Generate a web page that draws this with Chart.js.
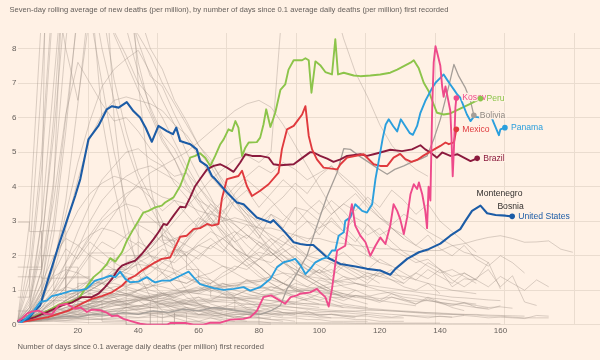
<!DOCTYPE html>
<html><head><meta charset="utf-8">
<script src="https://cdn.jsdelivr.net/npm/chart.js@4"></script>
<style>
html,body{margin:0;padding:0;background:#fff1e5;}
#wrap{position:relative;width:600px;height:360px;}
</style></head><body>
<div id="wrap"><canvas id="c"></canvas></div>
<script>
const titleText = 'Seven-day rolling average of new deaths (per million), by number of days since 0.1 average daily deaths (per million) first recorded';
const xAxisTitle = 'Number of days since 0.1 average daily deaths (per million) first recorded';
const xTickValues = [20,40,60,80,100,120,140,160];
const gridDays = [23.4,46.4,69.4,92.4,115.4,138.4,161.4,184.4];
const grayDays = [0,4,8,12,16,20,24,28,32,36,40,44,48,52,56,60,64,68,72,76,80,84,88,92,96,100,104,108,112,116,120,124,128,132,136,140,144,148,152,156,160,164,168,172,176,180,184];

// [day, deaths per million]
const unitedStates = [[0,0.1],[1.4,0.12],[3.6,0.17],[5.3,0.37],[7.5,0.56],[10.2,1.33],[13.6,2.29],[16.9,3.16],[19.1,3.73],[20.8,4.22],[23.5,5.37],[26.8,5.76],[29.6,6.24],[31.3,6.33],[33.5,6.29],[36.2,6.45],[38.4,6.19],[40.6,6.0],[42.5,5.7],[44.5,5.3],[46.7,5.76],[49.5,5.61],[51.5,5.52],[52.6,5.71],[53.9,5.32],[57.2,5.23],[59.4,5.08],[60.5,4.74],[62.8,4.6],[64.4,4.31],[65.5,4.22],[69.4,3.83],[72.7,3.54],[74.9,3.49],[79.3,3.11],[83.8,2.96],[84.8,3.03],[88.2,2.72],[91.5,2.39],[93.7,2.34],[95.9,2.31],[98,2.31],[102.6,1.95],[107,1.76],[112,1.69],[115.8,1.62],[120.2,1.57],[123.5,1.45],[125.2,1.62],[129.1,1.91],[133,2.1],[136.2,2.19],[140.1,2.35],[143.4,2.58],[146.7,2.77],[148.4,3.01],[150.6,3.3],[153.4,3.45],[155.6,3.23],[158.4,3.18],[161.7,3.16],[163.9,3.14]];
const panama = [[0,0.1],[1.4,0.08],[4.7,0.32],[7.5,0.66],[9.7,0.7],[11.4,0.83],[14.7,0.9],[18,0.99],[20.2,0.99],[22.9,1.04],[25.7,1.28],[28.5,1.35],[30.7,1.42],[32.4,1.38],[34,1.54],[35.7,1.33],[37.3,1.23],[40.1,1.25],[41.7,1.33],[42.9,1.38],[44.5,1.28],[45.6,1.23],[47.8,1.28],[50.6,1.28],[53.9,1.42],[56.7,1.54],[58.3,1.38],[60.5,1.18],[65,1.06],[68.3,1.01],[71.6,1.04],[74.9,1.09],[77.1,0.99],[80.4,1.09],[83.8,1.33],[86,1.67],[88.2,1.81],[90.4,1.86],[92,1.91],[93.7,1.73],[95.4,1.47],[97,1.62],[98.7,1.81],[100.9,1.91],[102.6,1.95],[104.2,2.15],[105.3,2.15],[106.4,2.58],[108.1,2.68],[108.6,3.01],[110.3,3.11],[111.9,3.49],[114.2,3.3],[115.8,3.25],[117.5,3.49],[118.6,4.22],[120,4.9],[121,5.4],[122,5.8],[123,5.95],[124.5,5.75],[125.8,5.6],[127,5.95],[128.5,5.75],[130,5.55],[131,5.5],[132.4,5.76],[133.5,6.14],[135.1,6.48],[137.4,6.86],[138.5,7.01],[140.1,7.15],[141.2,7.25],[142.3,7.1],[143.4,6.96],[144.6,6.81],[145.7,6.67],[146.7,6.58],[148.9,6.09],[150.1,5.9],[151.2,6.03],[153.4,6.0],[155.6,6.14],[156.7,6.09],[157.8,5.85],[159.5,5.49],[160,5.66],[161.5,5.71]];
const peru = [[0,0.1],[5.3,0.22],[10.2,0.41],[13.6,0.58],[17.4,0.66],[20.2,0.75],[22.4,1.04],[25.2,1.38],[27.4,1.54],[29.6,1.76],[30.7,1.93],[32.4,1.83],[34.6,2.1],[36.2,2.43],[38.4,2.77],[40.1,3.01],[41.7,3.25],[43.4,3.3],[45.6,3.4],[47.8,3.45],[48.9,3.54],[51.7,3.69],[53.9,4.02],[55.6,4.41],[57.2,4.84],[58.9,4.89],[60.5,4.97],[62.2,4.84],[63.9,4.6],[65.5,4.89],[67.2,5.23],[68.3,5.37],[69.9,5.66],[71.1,5.61],[72.2,5.9],[73.2,5.71],[74.4,4.89],[75.5,5.13],[76.6,5.28],[79.3,5.29],[80.4,5.42],[81.5,5.8],[82.4,6.24],[83.8,5.73],[85.4,6.14],[87.1,6.8],[88.7,6.96],[89.8,7.39],[91.5,7.66],[94.3,7.66],[95.4,7.72],[96.5,7.66],[97.4,6.72],[98.7,7.63],[100.3,7.52],[102,7.32],[104.2,7.25],[105.3,8.27],[106.2,7.25],[108.1,7.3],[111.4,7.22],[113.6,7.2],[116.9,7.22],[120.2,7.25],[123.5,7.3],[125.8,7.39],[128,7.49],[130.2,7.59],[131.3,7.66],[132.9,7.44],[134.6,7.01],[136.2,6.77],[137.9,6.38],[139,6.14],[141.2,6.09],[143.4,6.12],[146.7,6.26],[150,6.4],[153.4,6.55]];
const brazil = [[0,0.1],[1.4,0.1],[5.8,0.22],[10.2,0.38],[14.7,0.56],[18,0.64],[21.3,0.8],[24.6,0.8],[26.8,0.9],[29,1.09],[31.3,1.33],[33.5,1.62],[34.6,1.71],[37.3,1.81],[39,1.86],[41.2,2.05],[43.4,2.29],[45.1,2.48],[46.7,2.68],[48.4,2.92],[49.5,2.89],[51.7,3.16],[53.9,3.42],[55.6,3.4],[57.2,3.69],[58.9,4.02],[60.5,4.22],[62.8,4.5],[65,4.6],[67.2,4.65],[69.4,4.55],[71.6,4.43],[73.8,4.7],[75.5,4.94],[77.7,4.89],[80.4,4.89],[83.2,4.84],[84.8,4.65],[87.1,4.62],[91.5,4.65],[93.7,4.79],[97,5.0],[98.1,4.99],[100.3,4.89],[102.6,4.81],[104.7,4.72],[107,4.79],[109.2,4.89],[113.6,4.94],[115.8,4.89],[118,4.94],[120.2,4.99],[123.5,5.07],[127.4,5.03],[130.7,5.08],[133.5,5.2],[135.1,5.08],[136.8,4.99],[139,4.84],[140.7,4.99],[143.4,4.89],[145.7,4.94],[147.9,4.84],[150.1,4.74],[152.3,4.82]];
const mexico = [[0,0.1],[1.4,0.08],[10.2,0.22],[16.9,0.41],[21.3,0.61],[24.6,0.75],[27.9,0.83],[31.3,0.94],[34.6,1.13],[36.8,1.33],[39,1.42],[41.2,1.57],[43.4,1.69],[45.6,1.81],[47.8,1.91],[50.6,1.95],[52.5,2.3],[53.9,2.55],[56.1,2.58],[58.3,2.77],[60.5,2.8],[62.8,2.92],[64.4,2.87],[66.6,2.92],[67.7,3.64],[69.4,4.22],[73.2,4.31],[74.4,4.46],[76,4.02],[77.7,3.73],[80.4,3.88],[83.2,4.07],[86.5,4.41],[87.6,5.08],[89.3,5.66],[91.5,5.76],[93.1,5.95],[94.3,6.09],[95.4,6.33],[96.5,5.47],[97.6,5.08],[99.2,4.79],[101.4,4.55],[105.9,4.5],[107,4.65],[109.2,4.84],[114.7,4.94],[118,4.65],[120.2,4.6],[122.5,4.6],[124.6,4.84],[126.8,4.95],[128.5,4.8],[130.5,4.72],[132.5,4.78],[134.5,4.9],[136.5,5.0],[138.5,5.1],[140.1,5.18],[141.8,5.28],[142.9,5.23],[144.6,5.28],[145.4,5.66]];
const kosovo = [[0,0.1],[1.4,0.17],[3.1,0.32],[4.7,0.38],[6.9,0.41],[9.2,0.32],[11.4,0.3],[13.6,0.56],[16.3,0.61],[19.1,0.46],[21,0.5],[23,0.37],[24.6,0.44],[27.5,0.42],[29.6,0.35],[31.3,0.25],[33,0.27],[35.1,0.17],[37.9,0.1],[40.6,0.03],[42.9,0],[49.5,0],[50.6,0.05],[55.6,0.05],[58.3,0],[61.7,0],[63.9,0.06],[67.2,0.06],[70.5,0.15],[74.9,0.17],[77.1,0.22],[79.3,0.4],[81.5,0.8],[84,0.85],[86,0.75],[88.7,0.61],[90.5,0.8],[92.6,0.85],[93.7,0.9],[97,0.94],[99.2,1.04],[100.3,0.94],[102,0.8],[103.1,0.53],[104.2,1.04],[105.9,2.15],[108.6,2.29],[109.7,2.96],[110.8,3.49],[111.9,2.87],[113.6,2.58],[115.3,2.39],[116.9,2.0],[118.6,2.29],[120.2,2.53],[121.9,2.34],[123.5,2.87],[124.6,3.49],[125.8,3.3],[126.8,3.06],[128,2.63],[129.1,3.11],[130.2,3.78],[131.3,4.07],[132.4,3.93],[133,4.12],[134.1,3.78],[135.1,3.3],[135.7,2.8],[136.2,4.0],[136.8,3.6],[137.4,6.3],[137.9,7.6],[138.5,8.07],[139,7.9],[140.1,7.5],[140.7,6.9],[141.2,6.6],[141.8,6.9],[142.5,6.6],[143.4,6.2],[143.8,5.4],[144.2,4.3],[144.6,5.1],[145.1,6.3],[145.4,6.57]];
const bolivia = [[0,0.1],[5,0.18],[10,0.15],[15,0.25],[20,0.22],[25,0.3],[30,0.28],[35,0.35],[40,0.3],[45,0.4],[50,0.36],[55,0.45],[60,0.4],[65,0.5],[70,0.45],[75,0.38],[80.4,0.3],[83.8,0.4],[87.1,0.56],[89.3,1.04],[91.5,1.33],[93.7,1.67],[95.9,2.0],[98.1,2.58],[100.5,3.2],[102.6,3.73],[105.9,4.41],[108.1,5.1],[110.3,5.08],[113,4.9],[115.8,4.74],[119,4.55],[122.5,4.36],[125,4.5],[128,4.6],[131.3,4.74],[133.5,4.8],[135.7,4.89],[137.9,5.37],[140.1,5.95],[142.9,6.91],[144.6,7.54],[146.2,7.2],[148.4,6.86],[150.1,6.48],[151.2,6.07]];

// other countries, values every 4 days (grayDays)
const grayHigh = [
[0.1,0.7,2.4,5.5,9.5,12,11,9.6,8.4,7.6,6.8,6.1,5.3,4.8,4.1,3.6,3.0,2.7,2.2,1.9,1.7,1.4,1.2,1.05,0.9,0.8,0.72,0.6,0.55,0.5],
[0.1,0.4,1.6,4.2,8.2,11.5,13,12,10.2,8.6,7.3,6.3,5.5,5.1,4.4,3.7,3.3,2.8,2.4,2.0,1.7,1.4,1.2,1.0,0.85,0.7,0.62,0.5],
[0.1,0.3,0.9,2.6,5.6,9.2,12,13,12,10.4,9.1,8.0,7.4,6.5,5.9,5.2,4.8,4.1,3.6,3.0,2.6,2.1,1.8,1.5,1.3,1.1,0.95,0.8,0.7,0.6],
[0.1,1.2,4.5,9.5,14,14.5,12,9.2,7.1,5.6,4.4,3.7,3.0,2.4,2.0,1.6,1.3,1.05,0.8,0.65,0.5,0.42,0.35,0.3],
[0.1,0.2,0.6,1.7,3.6,6.4,9.6,9.8,9.0,9.4,8.2,7.2,6.9,6.1,5.4,4.9,4.3,3.9,3.4,3.1,2.6,2.2,1.9,1.5,1.3,1.1,0.9,0.8],
[0.1,0.3,0.8,1.8,3.2,4.7,5.9,6.9,7.4,7.7,7.95,7.3,6.5,5.8,5.0,4.3,3.7,3.0,2.5,2.0,1.7,1.4,1.2,1.0,0.9],
[0.1,0.3,0.7,1.5,2.8,4.2,5.4,6.1,6.5,6.6,6.5,6.4,6.2,5.8,5.5,5.0,4.6,4.0,3.6,3.2,2.7,2.4,2.0,1.7,1.4,1.2,1.0,0.9],
[0.1,0.5,1.6,3.6,6.1,7.6,7.0,6.4,5.9,6.0,5.6,5.1,4.7,4.1,3.7,3.2,2.8,2.3,2.0,1.7,1.4,1.2,1.0,0.8,0.7],
[0.1,0.2,0.5,1.0,1.8,2.7,3.5,4.2,4.6,5.0,5.1,4.8,4.6,4.3,4.4,4.0,3.6,3.3,2.9,2.6,2.3,2.1,1.8,1.6,1.4,1.2,1.0,0.9,0.8],
[0.1,0.2,0.4,0.8,1.4,2.2,3.0,3.6,4.0,4.3,4.5,4.6,4.4,4.2,3.9,3.6,3.4,3.1,2.9,2.6,2.4,2.2,2.0,1.8,1.6,1.5,1.3,1.2],
[0.1,0.15,0.25,0.4,0.6,0.8,1.0,1.2,1.4,1.6,1.9,2.2,2.6,3.0,3.4,3.8,4.2,4.5,4.8,4.9,4.7,5.0,9.5,12,12.5,11,9.6,8.3,7.3,6.6,5.8,5.2,4.8,4.5,4.3],
[0.1,2,7,13,16,13,10,8,6.5,5.2,4.2,3.4,2.8,2.2,1.8,1.4,1.1,0.9,0.7,0.5,0.4,0.3,0.25],
[0.1,0.8,3,7,11,13,12,10.5,9.5,8.8,8.4,7.8,7.0,6.4,5.8,5.2,4.7,4.2,3.7,3.3,2.9,2.5,2.2,1.9,1.6,1.4,1.2],
[0.1,0.5,3,25,40,30,20,12,6,3,1.5,0.8,0.4,0.2,0.1,0.1,0,0],
[0.1,0.3,1,4,12,30,45,35,22,12,7,4,2.5,1.5,1,0.6,0.4,0.3,0.2,0.2],
[0.1,0.2,0.4,0.7,1.1,1.6,2.1,2.7,3.2,3.7,4.1,4.4,4.6,4.8,5.0,5.3,5.6,5.9,6.2,6.4,6.5,6.3,5.8,5.2,4.6,4.0,3.4,2.9,2.5,2.1,1.8],
[0.1,0.6,2.2,6,11,17,20,18,14,10,7.6,6.2,5.4,4.8,4.0,3.5,3.1,2.6,2.2,1.8,1.5,1.2,1.0],
[0.1,0.4,1.2,3,6,9,11,10,8.5,7.8,7.0,6.6,6.0,5.3,4.6,4.0,3.5,3.1,2.7,2.3,2.0,1.7,1.5,1.3,1.1,1.0,0.9],
[0.1,3,9,16,20,15,10,6,4,2.5,1.8,1.2,0.9,0.7,0.5,0.4,0.3,0.2],
[0.1,1.5,5,10,8,6.5,9,7,5,3.5,2.6,2,1.5,1.1,0.8,0.6,0.5,0.4]
];
const grayMid = [
[0.1,0.3,0.7,1.2,1.8,2.3,2.6,2.8,2.7,2.5,2.3,2.0,1.8,1.6,1.4,1.2,1.0,0.9,0.8,0.7,0.6,0.5,0.45,0.4,0.35,0.3,0.3,0.25,0.2],
[0.1,0.2,0.5,0.9,1.4,2.0,2.5,3.0,3.3,3.5,3.4,3.1,2.8,2.5,2.3,2.1,1.9,1.7,1.5,1.3,1.1,1.0,0.9,0.8,0.7,0.6],
[0.1,0.2,0.35,0.5,0.7,0.9,1.1,1.3,1.5,1.7,1.9,2.1,2.3,2.5,2.6,2.8,2.9,3.0,3.1,3.0,2.8,2.6,2.4,2.2,2.0,1.9,1.8,1.7,1.6,1.5,1.4,1.3,1.2],
[0.1,0.4,1.0,1.8,2.6,3.3,3.8,4.1,4.3,4.2,4.0,3.9,3.7,3.6,3.5,3.3,3.2,3.1,3.0,2.9,2.8,2.8,2.7,2.6,2.5,2.5,2.4,2.35,2.3,2.25,2.2,2.2,2.15,2.1,2.15,2.15,2.29,2.35,2.45,2.53,2.58,2.5,2.39,2.4,2.43,2.19,2.1],
[0.1,0.15,0.2,0.3,0.4,0.5,0.6,0.7,0.8,0.9,1.0,1.1,1.3,1.5,1.7,2.0,2.3,2.1,2.6,2.9,2.5,3.2,2.8,3.4,3.0,2.6,3.1,2.7,2.4,2.9,2.5,2.2,2.0,1.8,1.9,1.6,1.4,1.5,1.3],
[0.1,0.1,0.2,0.3,0.35,0.5,0.6,0.8,1.0,1.2,1.5,1.8,2.2,2.0,2.5,2.9,3.3,3.0,3.6,3.9,3.4,3.8,4.2,3.9,3.5,3.2,3.6,3.3,2.9,2.6,2.8,2.4,2.1,1.9,1.7,1.5,1.6,1.4,1.2],
[0.1,0.2,0.3,0.5,0.7,1.0,1.3,1.6,1.9,2.1,2.4,2.2,2.6,2.3,2.0,2.4,2.7,2.5,2.2,2.0,1.9,2.3,2.6,2.2,1.9,1.7,1.5,1.8,1.6,1.4,1.2],
[0.1,0.3,0.8,1.5,2.2,1.9,2.4,2.1,1.8,1.6,1.9,1.7,1.5,1.3,1.2,1.4,1.3,1.1,1.0,0.9,0.8,0.9,0.7,0.6],
[0.1,0.15,0.2,0.3,0.4,0.5,0.6,0.7,0.9,1.1,1.3,1.5,1.8,2.1,2.4,2.8,3.2,3.6,4.0,4.3,4.6,4.4,4.7,4.5,4.2,4.4,4.6,4.3,4.0,3.6,3.2,2.8,2.5],
[0.1,0.2,0.3,0.4,0.6,0.8,1.0,1.2,1.5,1.8,2.0,2.3,2.6,2.4,2.8,3.1,2.9,3.3,3.6,3.2,3.0,3.4,3.7,4.1,3.8,4.3,4.6,4.2,3.9,3.5,3.1,2.8,2.6,2.3,2.1],
[0.1,0.2,0.35,0.5,0.7,0.9,1.1,1.0,1.3,1.5,1.4,1.7,1.9,1.8,2.1,2.3,2.2,2.5,2.7,2.5,2.9,3.2,3.0,3.4,3.3,3.6,3.2,3.5,3.8,3.4,3.1,2.9,3.2,3.0,2.7,2.5,2.3,2.1,2.0,1.8],
[0.1,0.3,0.6,1.0,1.5,2.0,2.6,3.1,3.5,3.8,4.0,3.7,3.3,3.6,3.2,2.8,3.1,2.7,2.4,2.6,2.3,2.0,2.2,1.9,1.7,1.5,1.6,1.4,1.2,1.1],
[0.1,0.15,0.2,0.25,0.3,0.4,0.5,0.6,0.7,0.8,1.0,1.2,1.5,1.9,2.4,3.0,3.5,3.2,3.8,4.2,3.9,3.6,3.2,2.9,3.3,3.0,2.7,2.5,2.2,2.0,1.8,1.7],
[0.1,0.2,0.4,0.7,1.1,1.5,2.0,2.4,2.2,2.6,2.9,2.7,2.4,2.2,2.0,2.3,2.5,2.2,1.9,1.7,1.9,2.1,1.8,1.6,1.4,1.6,1.3,1.1,1.0],
[0.1,0.1,0.15,0.2,0.2,0.25,0.3,0.35,0.4,0.5,0.55,0.6,0.7,0.8,0.9,1.0,1.2,1.4,1.6,1.9,2.2,2.5,2.3,2.7,3.0,2.8,3.2,3.5,3.3,3.7,3.4,3.9,3.6,3.2,3.5,3.0,2.7,2.4,2.1],
[0.1,0.15,0.2,0.3,0.35,0.4,0.5,0.45,0.55,0.6,0.5,0.65,0.7,0.6,0.75,0.8,0.7,0.9,0.85,1.0,0.9,1.1,1.0,1.2,1.1,1.3,1.2,1.4,1.3,1.5,1.4,1.6,1.3,1.5,1.8,1.6,1.3,1.1,1.35,1.6,1.1,1.42,0.66,0.56],
[0.1,0.12,0.18,0.25,0.3,0.38,0.45,0.5,0.6,0.55,0.7,0.8,0.75,0.9,1.0,0.95,1.1,1.2,1.1,1.3,1.25,1.4,1.2,1.5,1.35,1.6,1.4,1.7,1.5,1.3,1.6,1.4,1.2,1.5,1.33,1.6,1.1,1.33,1.3,1.81,1.04],
[0.1,0.2,0.3,0.25,0.4,0.5,0.45,0.6,0.7,0.65,0.8,0.75,0.9,0.85,1.0,1.1,0.95,1.2,1.05,1.3,1.15,1.0,1.2,1.05,0.9,1.1,0.95,0.8,1.0,0.85,0.7,0.9,0.75,0.6,0.8,0.65,0.5,0.41],
[0.1,0.2,0.3,0.4,0.5,0.6,0.7,0.8,0.9,0.85,1.0,1.1,1.2,1.3,1.2,1.4,1.5,1.7,1.6,1.9,2.1,2.0,2.3,2.6,2.4,2.8,3.0,2.7,3.1,2.9,2.6,2.8,2.5,2.3,2.6,2.2,2.0,2.3,1.9,1.7,2.0,1.8,1.5],
[0.1,0.1,0.15,0.2,0.3,0.35,0.4,0.5,0.55,0.6,0.7,0.8,0.9,1.0,1.1,1.3,1.2,1.5,1.7,1.6,1.9,1.8,2.1,2.3,2.0,2.2,1.9,2.1,1.8,1.6,1.9,1.7,1.5,1.3,1.6,1.4,1.2,1.5,1.3,1.1,1.4,1.2,1.0,1.3,1.1],
[0.1,0.2,0.3,0.5,0.7,0.9,1.1,1.3,1.6,1.5,1.8,2.0,1.9,2.2,2.1,1.9,2.3,2.5,2.2,2.0,2.4,2.1,1.8,2.0,1.7,1.5,1.8,1.6,1.4,1.2,1.5,1.3,1.1,1.0,1.2,0.9]
];
const grayLow = [
[0.1,0.2,0.4,0.6,0.8,1.0,1.1,1.2,1.2,1.1,1.0,0.9,0.8,0.7,0.6,0.5,0.45,0.4,0.35,0.3,0.3,0.25,0.2,0.2,0.15,0.15,0.1,0.1,0.1,0.1],
[0.1,0.15,0.25,0.35,0.5,0.6,0.7,0.8,0.85,0.9,0.85,0.8,0.75,0.7,0.6,0.55,0.5,0.45,0.4,0.4,0.35,0.3,0.3,0.25,0.25,0.2,0.2,0.2,0.15,0.15,0.1,0.1,0.1],
[0.1,0.1,0.15,0.2,0.25,0.3,0.35,0.4,0.45,0.5,0.55,0.6,0.62,0.65,0.7,0.72,0.75,0.8,0.78,0.76,0.74,0.7,0.68,0.65,0.6,0.58,0.55,0.5,0.48,0.45,0.42,0.4,0.38,0.35,0.32,0.3,0.3,0.28],
[0.1,0.12,0.14,0.2,0.18,0.22,0.28,0.25,0.3,0.35,0.33,0.4,0.38,0.45,0.42,0.5,0.48,0.55,0.52,0.6,0.58,0.62,0.7,0.66,0.75,0.72,0.8,0.78,0.85,0.82,0.9,0.95,0.88,0.85,0.78,0.75,0.7,0.64,0.6],
[0.1,0.3,0.5,0.7,0.9,1.1,1.3,1.2,1.0,0.9,0.8,0.7,0.6,0.5,0.4,0.3,0.25,0.2,0.15,0.1,0.1,0.05],
[0.1,0.2,0.3,0.45,0.6,0.75,0.9,1.0,1.1,1.15,1.2,1.15,1.1,1.0,0.95,0.9,0.85,0.8,0.75,0.7,0.65,0.6,0.55,0.5,0.45,0.4,0.38,0.35,0.32,0.3],
[0.1,0.1,0.12,0.15,0.18,0.2,0.22,0.25,0.28,0.3,0.3,0.32,0.35,0.35,0.38,0.4,0.42,0.45,0.48,0.5,0.52,0.55,0.58,0.6,0.62,0.6,0.58,0.55,0.5,0.48,0.45,0.42,0.4,0.38,0.35,0.33,0.3,0.3,0.28,0.25,0.25,0.22,0.2,0.2,0.2],
[0.1,0.2,0.35,0.5,0.4,0.6,0.5,0.7,0.6,0.5,0.45,0.4,0.35,0.3,0.25,0.2,0.2,0.15,0.1,0.1],
[0.1,0.15,0.2,0.3,0.4,0.5,0.55,0.6,0.65,0.7,0.75,0.8,0.85,0.9,0.95,1.0,1.05,1.1,1.15,1.2,1.25,1.3,1.2,1.1,1.0,0.95,0.9,0.85,0.8,0.75,0.7,0.65,0.6,0.55],
[0.1,0.1,0.1,0.12,0.12,0.14,0.15,0.16,0.18,0.2,0.2,0.22,0.22,0.24,0.25,0.25,0.26,0.28,0.3,0.3,0.32,0.32,0.34,0.35,0.35,0.36,0.38,0.4,0.4,0.42,0.42,0.4,0.38,0.36,0.35,0.34,0.32,0.3,0.3,0.28,0.27,0.26,0.25],
[0.1,0.25,0.45,0.65,0.85,0.95,1.0,0.95,0.9,0.85,0.8,0.7,0.6,0.5,0.45,0.4,0.35,0.3,0.25,0.2,0.2,0.15,0.15,0.1],
[0.1,0.12,0.15,0.2,0.25,0.3,0.35,0.4,0.45,0.5,0.52,0.55,0.6,0.62,0.65,0.7,0.68,0.66,0.64,0.6,0.58,0.55,0.52,0.5,0.48,0.45,0.42,0.4,0.38,0.35,0.32,0.3,0.28,0.26,0.25,0.24,0.22],
[0.1,0.1,0.1,0.1,0.08,0.08,0.06,0.06,0.05,0.05,0.05,0.04,0.04,0.04,0.04,0.03,0.03,0.03,0.03,0.03,0.03,0.03,0.03,0.03,0.03,0.03,0.03,0.03,0.03,0.03,0.03,0.03,0.03,0.03,0.03,0.03,0.03,0.03,0.03,0.03,0.03],
[0.1,0.12,0.15,0.18,0.2,0.18,0.16,0.15,0.14,0.12,0.12,0.1,0.1,0.09,0.08,0.08,0.08,0.08,0.07,0.07,0.07,0.07,0.06,0.06,0.06,0.06,0.06,0.06,0.05,0.05,0.05,0.05,0.05,0.05,0.05,0.05],
[0.1,0.2,0.3,0.4,0.5,0.6,0.7,0.75,0.8,0.85,0.8,0.75,0.7,0.65,0.6,0.55,0.5,0.5,0.45,0.45,0.4,0.4,0.35,0.35,0.3,0.3,0.3,0.25,0.25,0.25,0.2,0.2,0.2],
[0.1,0.15,0.25,0.35,0.45,0.55,0.6,0.65,0.7,0.75,0.8,0.85,0.9,0.95,1.0,1.05,1.1,1.15,1.2,1.25,1.3,1.4,1.5,1.45,1.4,1.35,1.3,1.25,1.2,1.15,1.1,1.05,1.0,0.95,0.9,0.85,0.8,0.78,0.75,0.72,0.7],
[0.1,0.2,0.3,0.2,0.4,0.3,0.5,0.4,0.3,0.5,0.4,0.3,0.2,0.3,0.2,0.1,0.2,0.1,0.1],
[0.1,0.1,0.15,0.2,0.25,0.3,0.3,0.35,0.4,0.4,0.45,0.5,0.5,0.55,0.6,0.6,0.65,0.7,0.7,0.75,0.8,0.85,0.9,0.95,1.0,1.05,1.1,1.15,1.2,1.1,1.0,0.9,0.8,0.75,0.7,0.65,0.6,0.55,0.5,0.48],
[0.1,0.3,0.6,0.9,1.1,1.0,0.9,0.8,0.7,0.6,0.55,0.5,0.45,0.4,0.35,0.3,0.3,0.25,0.25,0.2,0.2,0.2],
[0.1,0.12,0.14,0.18,0.22,0.26,0.3,0.34,0.38,0.42,0.46,0.5,0.54,0.58,0.62,0.66,0.7,0.74,0.78,0.82,0.86,0.9,0.95,1.0,1.05,1.1,1.2,1.3,1.35,1.4,1.5,1.45,1.4,1.3,1.2,1.1,1.0,0.95,0.9],
[0.1,0.3,0.2,0.5,0.4,0.7,0.6,0.9,0.8,0.6,0.7,0.5,0.6,0.4,0.5,0.3,0.4,0.3,0.2,0.3,0.2,0.15,0.1],
[0.1,0.15,0.3,0.45,0.65,0.8,0.7,0.95,0.85,1.05,0.9,0.8,0.95,0.75,0.65,0.8,0.6,0.5,0.65,0.45,0.4,0.5,0.35,0.3,0.4,0.25,0.2],
[0.1,0.2,0.25,0.35,0.3,0.45,0.55,0.5,0.65,0.6,0.75,0.7,0.85,0.8,0.95,0.9,1.05,0.95,0.85,1.0,0.9,0.8,0.95,0.85,0.75,0.9,0.8,0.7,0.85,0.75,0.65,0.8,0.7,0.6,0.75,0.62,0.55,0.65,0.5,0.45,0.55],
[0.1,0.08,0.12,0.15,0.13,0.18,0.2,0.17,0.22,0.25,0.21,0.27,0.3,0.26,0.32,0.28,0.34,0.3,0.36,0.32,0.3,0.35,0.28,0.33,0.3,0.26,0.31,0.28,0.24,0.3,0.26,0.22,0.27,0.24,0.2,0.25,0.22,0.27,0.24,0.2,0.22,0.2,0.18,0.27,0.25],
[0.1,0.4,0.9,1.4,1.6,1.5,1.3,1.2,1.0,0.9,0.8,0.7,0.65,0.55,0.5,0.45,0.4,0.35,0.3,0.3,0.25],
[0.1,0.2,0.35,0.5,0.65,0.8,1.0,1.2,1.4,1.6,1.75,1.7,1.6,1.5,1.35,1.2,1.1,1.0,0.9,0.8,0.75,0.7,0.65,0.6,0.55,0.5],
[0.1,0.15,0.22,0.3,0.38,0.45,0.5,0.58,0.62,0.7,0.74,0.8,0.85,0.92,0.96,1.0,1.05,1.1,1.14,1.1,1.05,1.1,1.02,0.96,1.0,0.92,0.88,0.9,0.84,0.8,0.76,0.8,0.72,0.68,0.7,0.64,0.6,0.62,0.56,0.5,0.52,0.48],
[0.1,0.5,1.2,2.0,2.5,2.3,2.0,1.8,1.6,1.4,1.2,1.0,0.9,0.8,0.7,0.6,0.5,0.45,0.4,0.35,0.3]
];
// small countries with jumpy (stepped) averages
const grayStep = [
[2.97,2.7,1.35,1.35,0.9,0.45,0.45,0.1,0.1,0.0,0.0,0.0],
[1.67,1.67,2.0,1.0,1.67,0.67,0.67,0.33,0.33,0.0,0.0,0.33,0.0,0.0],
[0.8,1.6,2.72,2.72,1.36,1.36,0.68,0.68,0.68,0.34,0.34,0.0,0.0,0.34,0.0],
[1.39,1.39,0.7,0.7,1.39,1.39,2.08,2.08,1.39,0.7,0.7,0.35,0.35,0.0,0.0],
[0.4,0.4,0.4,0.8,0.8,1.2,1.2,1.6,1.6,2.0,2.97,2.97,2.45,2.0,1.6,1.2,0.8,0.8,0.4,0.4,0.0,0.0]
];
const noteLabels = [['Montenegro',152.1,3.8],['Bosnia',159,3.43]];

const FONT = '"Liberation Sans", Arial, sans-serif';
const BG = '#fff1e5';
const GRID = '#eadccf';
const GRAY = 'rgba(160,148,138,0.5)';

const grayToPoints = v => v.map((y,i)=>({x:grayDays[i], y}));
const pairsToPoints = p => p.map(([x,y])=>({x,y}));

const datasets = [];
function grayDs(vals, stepped){
  return {data: grayToPoints(vals), borderColor: GRAY, borderWidth: 0.8, pointRadius: 0, stepped: !!stepped, order: 20, xAxisID:'x', yAxisID:'y'};
}
grayHigh.forEach(v=>datasets.push(grayDs(v)));
grayMid.forEach(v=>datasets.push(grayDs(v)));
grayLow.forEach(v=>datasets.push(grayDs(v)));
grayStep.forEach(v=>datasets.push(grayDs(v,true)));

function hiDs(label, pts, color, width, order, labelColor){
  return {label, endLabel: label, labelColor: labelColor || color, data: pairsToPoints(pts), borderColor: color, borderWidth: width, pointRadius: 0, order, xAxisID:'x', yAxisID:'y', borderJoinStyle:'round'};
}
datasets.push(hiDs('Kosovo', kosovo, '#ee4a8b', 1.9, 1));
datasets.push(hiDs('Mexico', mexico, '#e03a3e', 1.9, 3));
datasets.push(hiDs('Bolivia', bolivia, '#a59e98', 1.3, 8, '#8f8882'));
datasets.push(hiDs('Peru', peru, '#8cc44a', 1.9, 5));
datasets.push(hiDs('Panama', panama, '#2b9fdd', 1.9, 2));
datasets.push(hiDs('Brazil', brazil, '#8b1a3d', 1.9, 4));
datasets.push(hiDs('United States', unitedStates, '#1c5ca6', 2.1, 2.5));

const bgPlugin = {
  id:'bg',
  beforeDraw(chart){ const c=chart.ctx; c.save(); c.fillStyle=BG; c.fillRect(0,0,chart.width,chart.height); c.restore(); }
};
const labelPlugin = {
  id:'endLabels',
  afterDatasetsDraw(chart){
    const ctx = chart.ctx;
    ctx.save();
    ctx.font = '8.6px ' + FONT;
    ctx.textBaseline = 'middle';
    ctx.textAlign = 'left';
    ctx.lineJoin = 'round';
    chart.data.datasets.forEach((ds,i)=>{
      if(!ds.endLabel) return;
      const meta = chart.getDatasetMeta(i);
      const pt = meta.data[meta.data.length-1];
      ctx.fillStyle = ds.borderColor;
      ctx.beginPath(); ctx.arc(pt.x, pt.y, 2.8, 0, Math.PI*2); ctx.fill();
      ctx.strokeStyle = BG; ctx.lineWidth = 2.5;
      ctx.strokeText(ds.endLabel, pt.x+6, pt.y);
      ctx.fillStyle = ds.labelColor;
      ctx.fillText(ds.endLabel, pt.x+6, pt.y);
    });
    const xs = chart.scales.x, ys = chart.scales.y;
    noteLabels.forEach(([t,d,v])=>{
      const px = xs.getPixelForValue(d), py = ys.getPixelForValue(v);
      ctx.strokeStyle = BG; ctx.lineWidth = 2.5;
      ctx.strokeText(t, px, py);
      ctx.fillStyle = '#33302e';
      ctx.fillText(t, px, py);
    });
    ctx.restore();
  }
};

new Chart(document.getElementById('c'), {
  type:'line',
  data:{datasets},
  options:{
    responsive:true, maintainAspectRatio:false, animation:false, devicePixelRatio:1,
    events:[],
    layout:{padding:{left:9.5,right:0,top:0,bottom:6.5}},
    plugins:{
      legend:{display:false}, tooltip:{enabled:false},
      title:{display:true, text:titleText, align:'start', color:'#66605c', font:{family:FONT, size:7.6, weight:'normal'}, padding:{top:5,bottom:18.9}}
    },
    scales:{
      x:{type:'linear', min:0, max:193,
        afterBuildTicks: s => { s.ticks = xTickValues.map(v=>({value:v})); },
        grid:{display:false, drawTicks:false}, border:{display:false},
        ticks:{color:'#66605c', font:{family:FONT, size:8}, padding:1.2, maxRotation:0, autoSkip:false},
        title:{display:true, text:xAxisTitle, align:'start', color:'#66605c', font:{family:FONT, size:7.6}, padding:{top:5.6,bottom:2}}
      },
      xg:{type:'linear', position:'top', min:0, max:193,
        afterBuildTicks: s => { s.ticks = gridDays.map(v=>({value:v})); },
        afterFit: s => { s.height = 0; },
        ticks:{display:false}, grid:{color:GRID, drawTicks:false}, border:{display:false}
      },
      y:{type:'linear', min:0, max:8.45,
        afterFit: s => { s.width = 8; },
        ticks:{stepSize:1, includeBounds:false, color:'#66605c', font:{family:FONT, size:8}, padding:1},
        grid:{color:GRID, drawTicks:false}, border:{display:false}
      }
    }
  },
  plugins:[bgPlugin, labelPlugin]
});
</script>
</body></html>
